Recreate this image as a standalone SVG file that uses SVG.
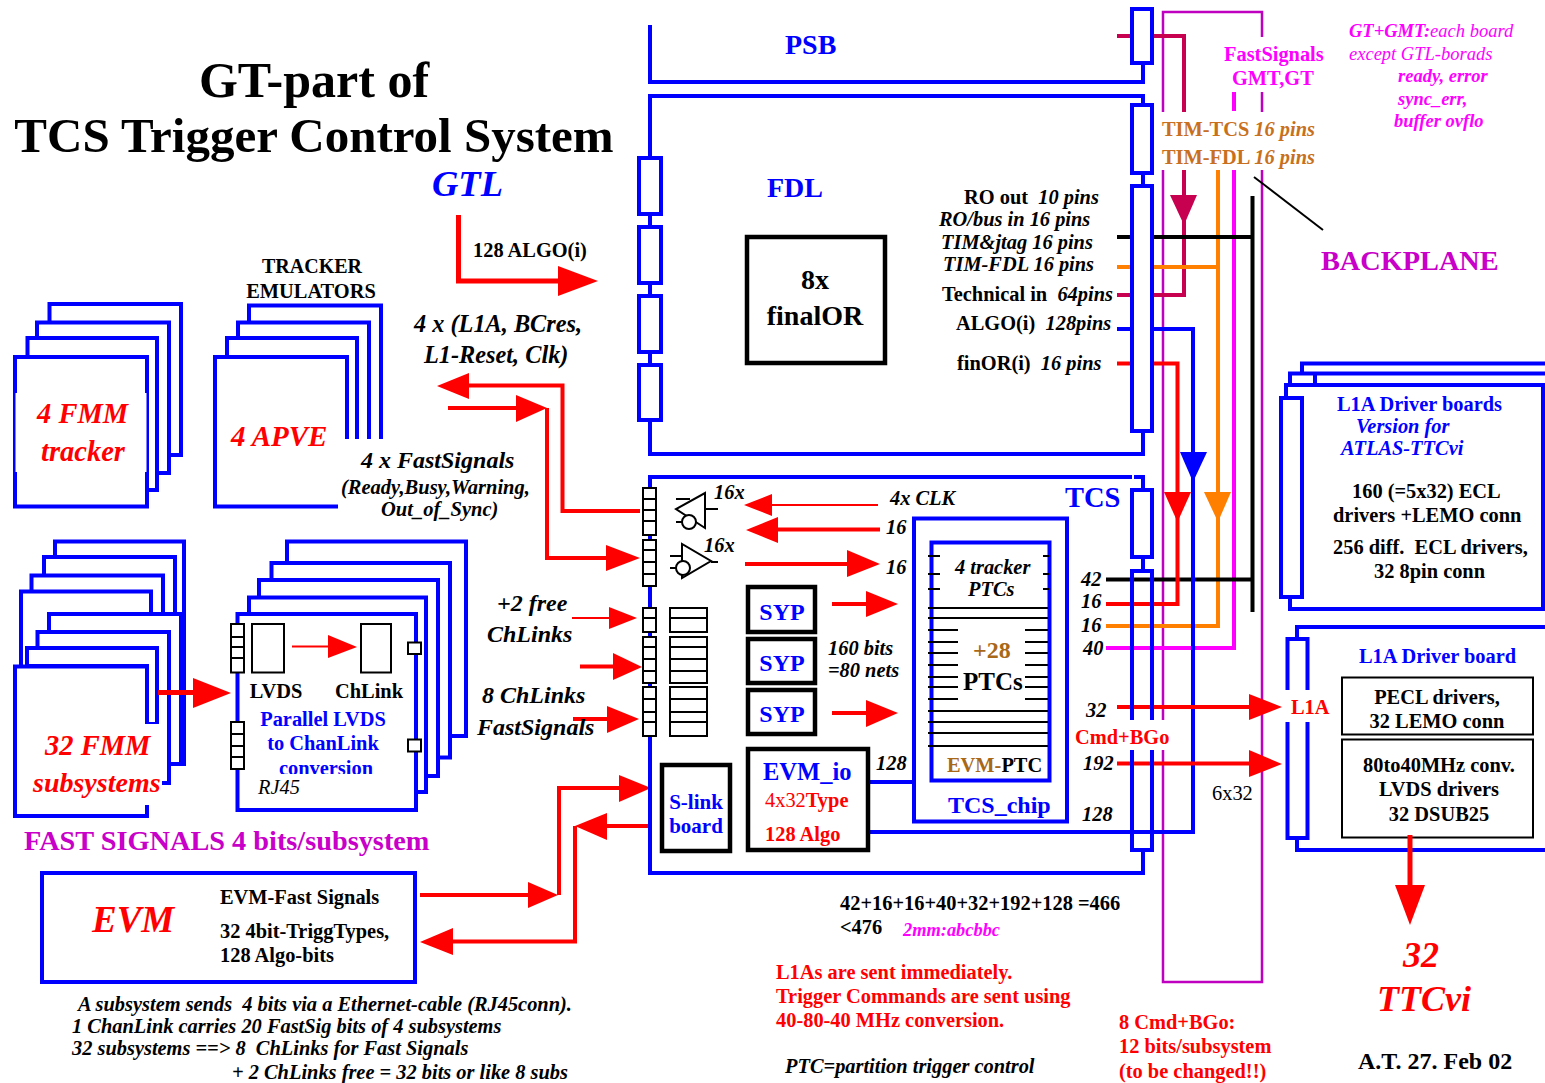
<svg xmlns="http://www.w3.org/2000/svg" width="1545" height="1083" viewBox="0 0 1545 1083">
<style>
text{font-family:"Liberation Serif","Times New Roman",serif;font-weight:bold;font-size:20.4px;fill:#000;white-space:pre}
.i{font-style:italic}.n{font-weight:normal}.m{text-anchor:middle}
.tb{fill:#00f}.tr{fill:#f00}.tm{fill:#f0f}.tp{fill:#c800c8}.to{fill:#c87020}.tbr{fill:#a86818}
.b{fill:none;stroke:#00f;stroke-width:4}
.bw{fill:#fff;stroke:#00f;stroke-width:4}
.k{fill:#fff;stroke:#000;stroke-width:2}
.kk{fill:#fff;stroke:#000;stroke-width:4.5}
.kl{fill:none;stroke:#000;stroke-width:2}
.kt{fill:none;stroke:#000;stroke-width:4}
.r{fill:none;stroke:#f00;stroke-width:4}
.r2{fill:none;stroke:#f00;stroke-width:2}
.r5{fill:none;stroke:#f00;stroke-width:5}
.h{fill:#f00;stroke:none}
.o{fill:none;stroke:#ff8000;stroke-width:4}
.ho{fill:#ff8000}
.c{fill:none;stroke:#c80050;stroke-width:4}
.hc{fill:#c80050}
.mg{fill:none;stroke:#f0f;stroke-width:4}
.pu{fill:none;stroke:#c000c0;stroke-width:2.5}
.w{fill:#fff;stroke:none}
</style>

<g id="title">
<text class="m" x="314" y="97" style="font-size:50px">GT-part of</text>
<text class="m" x="314" y="152" style="font-size:49px">TCS Trigger Control System</text>
<text class="i tb" x="432" y="196" style="font-size:36.500px">GTL</text>
</g>

<g id="connectors">
<path class="pu" d="M1163 112V12H1262V37M1262 92V112M1163 170V982H1262V170"/>
<path class="c" d="M1117 36H1131M1153 36H1184V112M1184 170V295H1153M1131 295H1117"/>
<polygon class="hc" points="1170,195 1197,195 1184,225"/>
<path class="o" d="M1218 170V626H1106M1117 267H1131M1153 267H1218"/>
<polygon class="ho" points="1204,492 1231,492 1218,522"/>
<path class="mg" d="M1234 92V111M1234 170V648H1106"/>
<path class="kt" d="M1252.500 196V612M1117 237H1131M1153 237H1254M1106 579.500H1254"/>
<path class="r" d="M1117 363.500H1131M1153 363.500H1177.500V604H1106"/>
<polygon class="h" points="1164,492 1191,492 1177.500,522"/>
<path class="b" d="M1117 329H1131M1153 329H1193V832H870M870 782H912"/>
<polygon points="1180,452 1207,452 1193,482" fill="#00f"/>
<line x1="1254" y1="177" x2="1323" y2="230" stroke="#000" stroke-width="2"/>

<path class="r" d="M640 511H562.500V385.500H468"/>
<polygon class="h" points="437,386 469,373 469,399"/>
<path class="r" d="M448 408H518M547 408V558H607"/>
<polygon class="h" points="547,408 516,395 516,422"/>
<polygon class="h" points="640,558 606,545 606,571"/>
<path class="r5" d="M458.500 215V281H560"/>
<polygon class="h" points="598,281 558,266 558,296"/>
<polygon class="h" points="231,693 193,678 193,708"/>
<path class="r2" d="M572 618H610"/><polygon class="h" points="637,618 609,607 609,629"/>
<path class="r" d="M580 666.500H614"/><polygon class="h" points="642,667 613,653 613,680"/>
<path class="r" d="M573 719H608"/><polygon class="h" points="639,719 607,706 607,733"/>
<path class="r" d="M420 895H530M559 895V788H620"/><polygon class="h" points="558,895 528,882 528,908"/><polygon class="h" points="651,788 619,775 619,802"/>
<path class="r" d="M650 826H606M575 826V941.500H452"/><polygon class="h" points="575,826 607,813 607,840"/><polygon class="h" points="420,942 453,928 453,955"/>
<path class="r2" d="M878 505H772"/><polygon class="h" points="744,505 772,494 772,516"/>
<path class="r" d="M880 529.500H776"/><polygon class="h" points="746,530 778,517 778,543"/>
<path class="r" d="M745 564H849"/><polygon class="h" points="880,564 847,550 847,577"/>
<path class="r" d="M832 604H868"/><polygon class="h" points="898,604 866,591 866,617"/>
<path class="r" d="M832 713H868"/><polygon class="h" points="898,713 866,700 866,727"/>
<path class="r" d="M1117 707H1250"/><polygon class="h" points="1282,707 1249,694 1249,720"/>
<path class="r" d="M1117 763.500H1250"/><polygon class="h" points="1282,764 1249,750 1249,777"/>
</g>

<g id="psb">
<path class="b" d="M650 25V82H1143V64"/>
<rect class="bw" x="1132" y="9" width="20" height="54"/>
<text class="tb" x="785" y="54" style="font-size:28px">PSB</text>
</g>

<g id="fdl">
<path class="b" d="M1143 104V96H650V454H1143V432M1143 174V185"/>
<rect class="bw" x="639" y="158" width="22" height="56"/>
<rect class="bw" x="639" y="227" width="22" height="56"/>
<rect class="bw" x="639" y="296" width="22" height="56"/>
<rect class="bw" x="639" y="365" width="22" height="55"/>
<rect x="1132" y="105" width="20" height="68" class="b"/>
<rect x="1132" y="186" width="20" height="245" class="b"/>
<text class="tb" x="767" y="197" style="font-size:28px">FDL</text>
<rect class="kk" x="747" y="237" width="138" height="126"/>
<text class="m" x="815" y="289" style="font-size:28px">8x</text>
<text class="m" x="815" y="325" style="font-size:28px">finalOR</text>
<text x="964" y="204">RO out<tspan class="i">  10 pins</tspan></text>
<text class="i" x="939" y="226">RO/bus in 16 pins</text>
<text class="i" x="941" y="249">TIM&amp;jtag 16 pins</text>
<text class="i" x="943" y="271">TIM-FDL 16 pins</text>
<text x="942" y="301">Technical in<tspan class="i">  64pins</tspan></text>
<text x="956" y="330">ALGO(i)<tspan class="i">  128pins</tspan></text>
<text x="957" y="370">finOR(i)<tspan class="i">  16 pins</tspan></text>
</g>

<g id="backplane-labels">
<rect class="w" x="1222" y="38" width="104" height="54"/>
<text class="tm" x="1224" y="61">FastSignals</text>
<text class="tm" x="1232" y="85">GMT,GT</text>
<rect class="w" x="1160" y="112" width="160" height="58"/>
<text class="to" x="1162" y="136">TIM-TCS <tspan class="i">16 pins</tspan></text>
<text class="to" x="1162" y="164">TIM-FDL <tspan class="i">16 pins</tspan></text>
<text class="tp" x="1321" y="270" style="font-size:28.300px">BACKPLANE</text>
<text class="tm i" x="1349" y="37" style="font-size:18.500px">GT+GMT:<tspan class="n">each board</tspan></text>
<text class="tm i n" x="1349" y="60" style="font-size:18.500px">except GTL-borads</text>
<text class="tm i" x="1398" y="82" style="font-size:18.500px">ready, error</text>
<text class="tm i" x="1398" y="105" style="font-size:18.500px">sync_err,</text>
<text class="tm i" x="1394" y="127" style="font-size:18.500px">buffer ovflo</text>
</g>

<g id="tcs">
<path class="b" d="M1132 477H650V873H1143V850M1134 477H1143V489M1143 557V570"/>
<rect x="1132" y="490" width="20" height="67" class="b"/>
<rect x="1132" y="571" width="20" height="279" class="b"/>
<text class="tb" x="1065" y="507" style="font-size:28.500px">TCS</text>
<g id="inputs-left">
<path class="k" d="M643 488H656V535H643ZM643 499H656M643 510H656M643 521H656"/>
<path class="k" d="M643 540H656V586H643ZM643 550H656M643 562H656M643 574H656"/>
<path class="k" d="M643 608H656V632H643ZM643 618H656"/>
<path class="k" d="M643 637H656V683H643ZM643 647H656M643 659H656M643 671H656"/>
<path class="k" d="M643 687H656V736H643ZM643 699H656M643 712H656M643 722H656"/>
<path class="k" d="M670 608H707V632H670ZM670 618H707"/>
<path class="k" d="M670 637H707V683H670ZM670 647H707M670 659H707M670 671H707"/>
<path class="k" d="M670 687H707V736H670ZM670 699H707M670 712H707M670 722H707"/>
</g>
<g id="gates">
<path class="kl" d="M705 493V528L676 509ZM676 499H690M676 522H682M705 509H718"/>
<circle class="k" cx="689" cy="522" r="7"/>
<path class="kl" d="M682 544V578L711 561ZM670 556H682M670 568H676M711 562H718"/>
<circle class="k" cx="683" cy="568" r="7"/>
<text class="i" x="714" y="499">16x</text>
<text class="i" x="704" y="552">16x</text>
</g>
<text class="i" x="890" y="505">4x CLK</text>
<text class="i" x="886" y="534">16</text>
<text class="i" x="886" y="574">16</text>
<g id="syp">
<rect class="kk" x="748" y="587" width="67" height="45"/>
<rect class="kk" x="748" y="639" width="67" height="44"/>
<rect class="kk" x="748" y="690" width="67" height="44"/>
<text class="tb m" x="782" y="620" style="font-size:24px">SYP</text>
<text class="tb m" x="782" y="671" style="font-size:24px">SYP</text>
<text class="tb m" x="782" y="722" style="font-size:24px">SYP</text>
</g>
<text class="i" x="828" y="655">160 bits</text>
<text class="i" x="828" y="677">=80 nets</text>
<g id="evm-io">
<rect class="kk" x="748" y="749" width="120" height="101"/>
<text class="tb" x="763" y="780" style="font-size:24.500px">EVM_io</text>
<text class="tr" x="765" y="807"><tspan class="n">4x32</tspan>Type</text>
<text class="tr" x="765" y="841">128 Algo</text>
</g>
<g id="slink">
<rect class="kk" x="662" y="765" width="68" height="86"/>
<text class="tb m" x="696" y="809" style="font-size:21px">S-link</text>
<text class="tb m" x="696" y="833" style="font-size:21px">board</text>
</g>
<text class="i" x="876" y="770">128</text>
<g id="tcs-chip">
<rect x="914" y="518.500" width="153" height="303" class="bw"/>
<rect x="931.500" y="542.500" width="118" height="238" class="bw"/>
<path class="kl" d="M928 556H940M928 574H940M928 589H940M1043 556H1049M1043 574H1049M1043 589H1049M928 608H1048M928 618H1048M928 711H1048M928 722H1048M928 733H1048M928 746H1048M928 630H958M928 642H958M928 653H958M928 665H958M928 677H958M928 687H958M928 699H958M1025 630H1048M1025 642H1048M1025 653H1048M1025 665H1048M1025 677H1048M1025 687H1048M1025 699H1048"/>
<text class="i" x="955" y="574">4 tracker</text>
<text class="i" x="968" y="596">PTCs</text>
<text class="tbr" x="973" y="658" style="font-size:24px">+28</text>
<text x="963" y="690" style="font-size:25px">PTCs</text>
<text x="947" y="772"><tspan class="tbr">EVM-</tspan>PTC</text>
<text class="tb" x="948" y="813" style="font-size:24px">TCS_chip</text>
</g>
<text class="i" x="1081" y="586">42</text>
<text class="i" x="1081" y="608">16</text>
<text class="i" x="1081" y="632">16</text>
<text class="i" x="1083" y="655">40</text>
<text class="i" x="1086" y="717">32</text>
<rect class="w" x="1074" y="720" width="96" height="30"/>
<text class="tr" x="1075" y="744">Cmd+BGo</text>
<text class="i" x="1083" y="770">192</text>
<text class="i" x="1082" y="821">128</text>
<text class="n" x="1212" y="800">6x32</text>
</g>

<g id="algo-labels">
<text x="473" y="257">128 ALGO(i)</text>
<text class="i" x="414" y="332" style="font-size:24.300px">4 x (L1A, BCres,</text>
<text class="i" x="424" y="363" style="font-size:24.300px">L1-Reset, Clk)</text>
</g>

<g id="fmm-tracker">
<path class="b" d="M49.500 322V304H181V455H169M37 338V322.500H169V473H157M27.500 357V338H157V490H147"/>
<rect class="bw" x="15" y="357" width="132" height="149.500"/>
<rect class="w" x="15.500" y="393" width="131" height="79"/>
<text class="tr i" x="37" y="423" style="font-size:28.500px">4 FMM</text>
<text class="tr i" x="41" y="461" style="font-size:28.500px">tracker</text>
</g>

<g id="apve">
<path class="b" d="M249 322V305.500H381V439M238 338V322.500H369V439M227 357V338H357V439M338 506.500H215V357H347V439"/>
<text x="312" y="273" class="m" style="font-size:20px">TRACKER</text>
<text x="311" y="298" class="m" style="font-size:20.400px">EMULATORS</text>
<text class="tr i" x="231" y="446" style="font-size:29px">4 APVE</text>
<text class="i" x="361" y="468" style="font-size:24px">4 x FastSignals</text>
<text class="i" x="341" y="494" style="font-size:20.500px">(Ready,Busy,Warning,</text>
<text class="i" x="381" y="516" style="font-size:20.500px">Out_of_Sync)</text>
</g>

<g id="fmm-subsystems">
<path class="b" d="M55 557V541.500H184V764H169M44 575V557H175V614M31.500 591V575.500H163V614M21 666V591.500H151V614"/>
<path class="b" d="M49 632V614H181V764"/>
<path class="bw" d="M37.500 648V632H169V783H157V648Z"/>
<path class="bw" d="M27 666V648H157V724H147V666Z"/>
<rect class="bw" x="15" y="666.500" width="132" height="149.500"/>
<rect class="w" x="17" y="724" width="154" height="81"/>
<path class="b" d="M169 724V783H162"/>
<rect class="w" x="17" y="724" width="139" height="81"/>
<path class="r5" d="M158 692.500H194"/>
<text class="tr i" x="45" y="755" style="font-size:28.500px">32 FMM</text>
<text class="tr i" x="33" y="792" style="font-size:28px">subsystems</text>
<text class="tp" x="24" y="850" style="font-size:28.300px">FAST SIGNALS 4 bits/subsystem</text>
</g>

<g id="lvds-cards">
<path class="b" d="M287 563V541.500H466V736H450M271.500 580V563H450V757.500H438M259 597V580H438V776H426M249 614V597.500H426V792H416"/>
<rect class="bw" x="237.500" y="614" width="178.500" height="196"/>
<path class="k" d="M231 624H244V672.500H231ZM231 637H244M231 647H244M231 658H244"/>
<path class="k" d="M231 722H244V769H231ZM231 734H244M231 746H244M231 757H244"/>
<rect class="k" x="252" y="624" width="32" height="48.500"/>
<rect class="k" x="361" y="624" width="30" height="48.500"/>
<path class="r2" d="M292 646.500H330"/><polygon class="h" points="357,647 328,635 328,658"/>
<rect class="k" x="408" y="642.500" width="13" height="11.500"/>
<rect class="k" x="408" y="739.500" width="13" height="12"/>
<text class="m" x="276" y="698">LVDS</text>
<text class="m" x="369" y="698">ChLink</text>
<text class="tb m" x="323" y="726">Parallel LVDS</text>
<text class="tb m" x="323" y="750">to ChanLink</text>
<text class="tb m" x="326" y="775">conversion</text>
<rect class="w" x="270" y="774" width="130" height="30"/>
<text class="i n" x="258" y="794">RJ45</text>
</g>

<g id="channel-labels">
<text class="i" x="497" y="611" style="font-size:24px">+2 free</text>
<text class="i" x="487" y="642" style="font-size:24px">ChLinks</text>
<text class="i" x="482" y="703" style="font-size:24px">8 ChLinks</text>
<text class="i" x="477" y="735" style="font-size:24px">FastSignals</text>
</g>

<g id="evm">
<rect class="bw" x="42" y="873" width="373" height="109"/>
<text class="tr i" x="92" y="932" style="font-size:37px">EVM</text>
<text x="220" y="904">EVM-Fast Signals</text>
<text x="220" y="938">32 4bit-TriggTypes,</text>
<text x="220" y="962">128 Algo-bits</text>
</g>

<g id="l1a-boards">
<path class="b" d="M1302 373V363.500H1545M1290 385V373.500H1545M1315 373.500V385"/>
<path class="b" d="M1286 397V385H1543V609H1290V597"/>
<rect class="bw" x="1281" y="398" width="21" height="199"/>
<text class="tb" x="1337" y="411">L1A Driver boards</text>
<text class="tb i" x="1356" y="433">Version for</text>
<text class="tb i" x="1341" y="455">ATLAS-TTCvi</text>
<text x="1352" y="498">160 (=5x32) ECL</text>
<text x="1333" y="522">drivers +LEMO conn</text>
<text x="1333" y="554">256 diff.  ECL drivers,</text>
<text x="1374" y="578">32 8pin conn</text>
</g>

<g id="l1a-board">
<path class="b" d="M1297 638V627H1545M1297 839V850H1545"/>
<rect class="bw" x="1287.500" y="639" width="20" height="199"/>
<rect class="w" x="1284" y="690" width="48" height="32"/>
<text class="tr" x="1291" y="714">L1A</text>
<text class="tb" x="1359" y="663">L1A Driver board</text>
<rect class="k" x="1342" y="677.500" width="191" height="57"/>
<rect class="k" x="1342" y="739.500" width="191" height="98"/>
<text class="m" x="1437" y="704">PECL drivers,</text>
<text class="m" x="1437" y="728">32 LEMO conn</text>
<text class="m" x="1439" y="772">80to40MHz conv.</text>
<text class="m" x="1439" y="796">LVDS drivers</text>
<text class="m" x="1439" y="821">32 DSUB25</text>
<path class="r5" d="M1410 835V887"/><polygon class="h" points="1410,925 1395,885 1425,885"/>
</g>

<g id="notes">
<text class="tr i m" x="1421" y="967" style="font-size:36px">32</text>
<text class="tr i m" x="1424" y="1011" style="font-size:36px">TTCvi</text>
<text x="1358" y="1069" style="font-size:24px">A.T. 27. Feb 02</text>
<text x="840" y="910">42+16+16+40+32+192+128 =466</text>
<text x="840" y="934">&lt;476</text>
<text class="tm i" x="903" y="936" style="font-size:18.400px">2mm:abcbbc</text>
<text class="tr" x="776" y="979">L1As are sent immediately.</text>
<text class="tr" x="776" y="1003">Trigger Commands are sent using</text>
<text class="tr" x="776" y="1027">40-80-40 MHz conversion.</text>
<text class="i" x="785" y="1073">PTC=partition trigger control</text>
<text class="tr" x="1119" y="1029">8 Cmd+BGo:</text>
<text class="tr" x="1119" y="1053">12 bits/subsystem</text>
<text class="tr" x="1119" y="1078">(to be changed!!)</text>
<text class="i" x="78" y="1011">A subsystem sends  4 bits via a Ethernet-cable (RJ45conn).</text>
<text class="i" x="72" y="1033">1 ChanLink carries 20 FastSig bits of 4 subsystems</text>
<text class="i" x="72" y="1055">32 subsystems ==&gt; 8  ChLinks for Fast Signals</text>
<text class="i" x="232" y="1079">+ 2 ChLinks free = 32 bits or like 8 subs</text>
</g>
</svg>
